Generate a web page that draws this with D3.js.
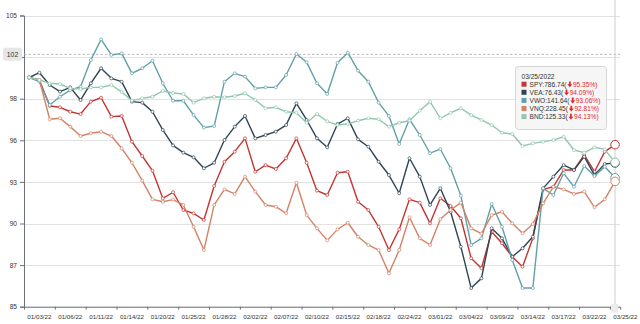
<!DOCTYPE html>
<html>
<head>
<meta charset="utf-8">
<script src="https://cdn.jsdelivr.net/npm/d3@7"></script>
<style>
  html, body { margin: 0; padding: 0; background: #fff; }
  svg { display: block; font-family: "Liberation Sans", Arial, Helvetica, sans-serif; }
</style>
</head>
<body>
<svg id="chart" width="640" height="324"></svg>
<script>
// Trading days, Jan 3 – Mar 25 2022
const dates = [
  "01/03/2022","01/04/2022","01/05/2022","01/06/2022","01/07/2022","01/10/2022","01/11/2022","01/12/2022","01/13/2022","01/14/2022",
  "01/18/2022","01/19/2022","01/20/2022","01/21/2022","01/24/2022","01/25/2022","01/26/2022","01/27/2022","01/28/2022","01/31/2022",
  "02/01/2022","02/02/2022","02/03/2022","02/04/2022","02/07/2022","02/08/2022","02/09/2022","02/10/2022","02/11/2022","02/14/2022",
  "02/15/2022","02/16/2022","02/17/2022","02/18/2022","02/22/2022","02/23/2022","02/24/2022","02/25/2022","02/28/2022","03/01/2022",
  "03/02/2022","03/03/2022","03/04/2022","03/07/2022","03/08/2022","03/09/2022","03/10/2022","03/11/2022","03/14/2022","03/15/2022",
  "03/16/2022","03/17/2022","03/18/2022","03/21/2022","03/22/2022","03/23/2022","03/24/2022","03/25/2022"
];

// Performance indexed to 100 on the first day (%)
const spy = [100, 99.83, 98.03, 97.94, 97.63, 97.47, 98.33, 98.60, 97.29, 97.34,
  95.56, 94.57, 93.55, 91.64, 92.06, 90.83, 90.60, 90.14, 92.49, 94.17,
  94.87, 95.79, 93.48, 93.94, 93.67, 94.41, 95.79, 94.10, 92.17, 91.87,
  93.41, 93.48, 91.40, 90.83, 89.67, 88.06, 89.49, 91.57, 91.34, 89.91,
  91.64, 91.11, 90.26, 87.49, 86.80, 89.33, 88.53, 87.60, 86.91, 88.87,
  92.26, 92.44, 93.60, 93.60, 94.64, 93.48, 94.87, 95.35];
const vea = [100, 100.33, 99.48, 99.02, 99.32, 98.44, 99.60, 100.64, 99.94, 99.71,
  98.33, 98.26, 97.63, 96.37, 95.30, 94.80, 94.48, 93.72, 94.10, 95.67,
  96.60, 97.34, 95.79, 96.02, 96.25, 96.71, 98.21, 97.06, 95.79, 95.17,
  96.78, 97.18, 95.72, 95.21, 94.17, 93.25, 91.99, 94.41, 93.14, 91.18,
  92.33, 90.71, 88.29, 85.43, 86.10, 89.56, 88.87, 87.60, 88.18, 88.98,
  92.33, 93.14, 93.94, 93.60, 94.52, 93.25, 94.01, 94.09];
const vwo = [100, 99.71, 98.10, 98.67, 99.13, 99.36, 101.21, 102.64, 101.56, 101.67,
  100.29, 100.64, 101.16, 99.60, 98.39, 98.39, 97.40, 96.53, 96.64, 99.71,
  100.29, 100.06, 99.25, 99.32, 99.32, 100.17, 101.63, 101.05, 99.60, 98.86,
  101.02, 101.72, 100.47, 99.71, 98.26, 97.34, 95.40, 97.11, 96.02, 94.76,
  95.05, 93.72, 91.82, 88.41, 88.87, 91.25, 89.67, 87.37, 85.43, 85.43,
  92.33, 91.87, 93.37, 92.44, 93.88, 93.18, 93.83, 93.06];
const vnq = [100, 99.83, 97.11, 97.18, 96.60, 95.95, 96.14, 96.25, 95.95, 95.10,
  94.10, 92.86, 91.57, 91.40, 91.55, 91.18, 89.67, 88.06, 91.18, 92.26,
  91.94, 93.14, 92.10, 91.18, 91.06, 90.60, 92.72, 90.48, 89.56, 88.73,
  89.49, 89.95, 88.98, 88.41, 88.06, 86.45, 88.06, 90.33, 88.87, 88.41,
  90.19, 90.83, 91.34, 89.56, 89.20, 90.48, 90.71, 89.91, 89.22, 89.86,
  91.29, 92.44, 92.26, 91.94, 92.10, 91.02, 91.57, 92.81];
const bnd = [100, 99.83, 99.60, 99.55, 99.25, 99.20, 99.32, 99.32, 99.48, 99.00,
  98.40, 98.56, 98.67, 99.07, 98.93, 98.86, 98.26, 98.56, 98.67, 98.63,
  98.72, 98.91, 98.44, 97.87, 97.94, 97.63, 97.56, 96.87, 97.47, 96.97,
  96.71, 96.78, 97.01, 97.18, 97.11, 96.60, 96.87, 97.01, 97.70, 98.33,
  97.18, 97.56, 97.87, 97.40, 97.06, 96.71, 96.18, 96.09, 95.26, 95.44,
  95.56, 95.67, 95.90, 94.98, 94.80, 95.17, 95.03, 94.13];

const seriesNames = ["SPY", "VEA", "VWO", "VNQ", "BND"];
const seriesValues = [spy, vea, vwo, vnq, bnd];
const seriesColors = ["#c23531", "#2f4554", "#61a0a8", "#d48265", "#91c7ae"];
const lastPrices = ["786.74", "76.43", "141.64", "228.45", "125.33"];

const yTickLabels = ["85", "87", "90", "93", "96", "98", "102", "105"];
const yDomain = [84.14, 104.29];
const hoverIndex = 57;          // crosshair column
const hoverLevel = 101.6;       // crosshair height (value)

const svg = d3.select("#chart");
const plotL = 24, plotR = 620.2, plotT = 15.5, plotB = 306.7;

// index scale: band boundaries at integers, points at i + 0.5
const xi = d3.scaleLinear().domain([0, dates.length]).range([plotL, plotR]);
const px = i => xi(i + 0.5);
const y = d3.scaleLinear().domain(yDomain).range([plotB, plotT]);
const yTicks = d3.range(8).map(k => yDomain[0] + k * (yDomain[1] - yDomain[0]) / 7);

// horizontal split lines
svg.append("g")
  .selectAll("line").data(yTicks).join("line")
  .attr("x1", plotL).attr("x2", plotR)
  .attr("y1", d => Math.round(y(d)) + 0.5).attr("y2", d => Math.round(y(d)) + 0.5)
  .attr("stroke", "#e2e2e2").attr("stroke-width", 1);

// y axis; the tick label sitting under the pointer badge is left out
const yPointerPx = y(hoverLevel);
const yAxis = svg.append("g").attr("transform", `translate(${plotL},0)`)
  .call(d3.axisLeft(y).tickValues(yTicks).tickSize(4).tickPadding(3)
    .tickFormat((d, i) => Math.abs(y(d) - yPointerPx) < 8 ? "" : yTickLabels[i]));
yAxis.select(".domain").attr("stroke", "#6e7079");
yAxis.selectAll(".tick line").attr("stroke", "#6e7079");
yAxis.selectAll(".tick text").attr("fill", "#333").attr("font-size", 6.6)
  .attr("font-family", "Liberation Sans, Arial, sans-serif");

// x axis: ticks every third trading day, labels centred one slot to the right
const tickIdx = d3.range(3, dates.length, 3);
const xAxis = svg.append("g").attr("transform", `translate(0,${plotB})`)
  .call(d3.axisBottom(xi).tickValues(tickIdx).tickSize(3).tickFormat(""));
xAxis.select(".domain").attr("stroke", "#6e7079");
xAxis.selectAll(".tick line").attr("stroke", "#6e7079");

const labelIdx = d3.range(0, dates.length, 3);
svg.append("g").selectAll("text").data(labelIdx).join("text")
  .attr("x", i => xi(i + 1.5))
  .attr("y", plotB + 12)
  .attr("text-anchor", "middle")
  .attr("font-size", 6.2)
  .attr("fill", "#333")
  .text(i => dates[i].slice(0, 6) + dates[i].slice(8));

// crosshair
svg.append("line")
  .attr("x1", plotL).attr("x2", plotR)
  .attr("y1", yPointerPx).attr("y2", yPointerPx)
  .attr("stroke", "#aaa").attr("stroke-width", 0.8).attr("stroke-dasharray", "2.5,2");
svg.append("line")
  .attr("x1", px(hoverIndex)).attr("x2", px(hoverIndex))
  .attr("y1", 0).attr("y2", plotB)
  .attr("stroke", "#cfcfcf").attr("stroke-width", 1);
svg.append("rect")
  .attr("x", px(hoverIndex) - 4).attr("y", plotB - 3).attr("width", 7).attr("height", 9)
  .attr("fill", "#ececec");

// series lines
const line = d3.line().x((d, i) => px(i)).y(d => y(d));
seriesValues.forEach((vals, s) => {
  const g = svg.append("g");
  g.append("path").datum(vals)
    .attr("d", line).attr("fill", "none")
    .attr("stroke", seriesColors[s]).attr("stroke-width", 1.4)
    .attr("stroke-linejoin", "round");
  g.selectAll("circle").data(vals.slice(0, hoverIndex)).join("circle")
    .attr("cx", (d, i) => px(i)).attr("cy", d => y(d)).attr("r", 1.5)
    .attr("fill", "#fff").attr("stroke", seriesColors[s]).attr("stroke-width", 0.7);
});
// emphasised points in the hovered column
seriesValues.forEach((vals, s) => {
  svg.append("circle")
    .attr("cx", px(hoverIndex)).attr("cy", y(vals[hoverIndex])).attr("r", 4.3)
    .attr("fill", "#fff").attr("stroke", seriesColors[s]).attr("stroke-width", 1);
});

// y pointer badge
const pl = svg.append("g");
pl.append("rect").attr("x", 3).attr("y", yPointerPx - 6.5).attr("width", 19).attr("height", 13)
  .attr("rx", 2).attr("fill", "#e6e6e6");
pl.append("text").attr("x", 12.5).attr("y", yPointerPx + 2.4).attr("text-anchor", "middle")
  .attr("font-size", 6.8).attr("fill", "#333").text(Math.round(hoverLevel));

// tooltip
const tip = svg.append("g").attr("transform", "translate(515,66)");
tip.append("rect").attr("x", 0.5).attr("y", 0.5).attr("width", 91).attr("height", 63).attr("rx", 3)
  .attr("fill", "rgba(245,245,245,0.95)").attr("stroke", "#d6d6d6").attr("stroke-width", 1);
tip.append("text").attr("x", 6.5).attr("y", 13).attr("font-size", 6.6).attr("fill", "#333")
  .text(dates[hoverIndex]);
seriesNames.forEach((name, s) => {
  const by = 21 + s * 8.1;
  tip.append("rect").attr("x", 6.5).attr("y", by - 5.3).attr("width", 5).attr("height", 5)
    .attr("fill", seriesColors[s]);
  const t1 = tip.append("text").attr("x", 14.5).attr("y", by).attr("font-size", 6.6).attr("fill", "#333")
    .text(`${name}:${lastPrices[s]}(`);
  const w = t1.node().getComputedTextLength();
  const ax = 14.5 + w + 0.8;
  tip.append("path")
    .attr("d", `M${ax + 1.6},${by - 5.6} h1.8 v2.9 h1.6 l-2.5,2.9 l-2.5,-2.9 h1.6 z`)
    .attr("fill", "#e0282e");
  tip.append("text").attr("x", ax + 5.6).attr("y", by).attr("font-size", 6.6).attr("fill", "#e0282e")
    .text(` ${seriesValues[s][hoverIndex].toFixed(2)}%)`);
});
</script>
</body>
</html>
